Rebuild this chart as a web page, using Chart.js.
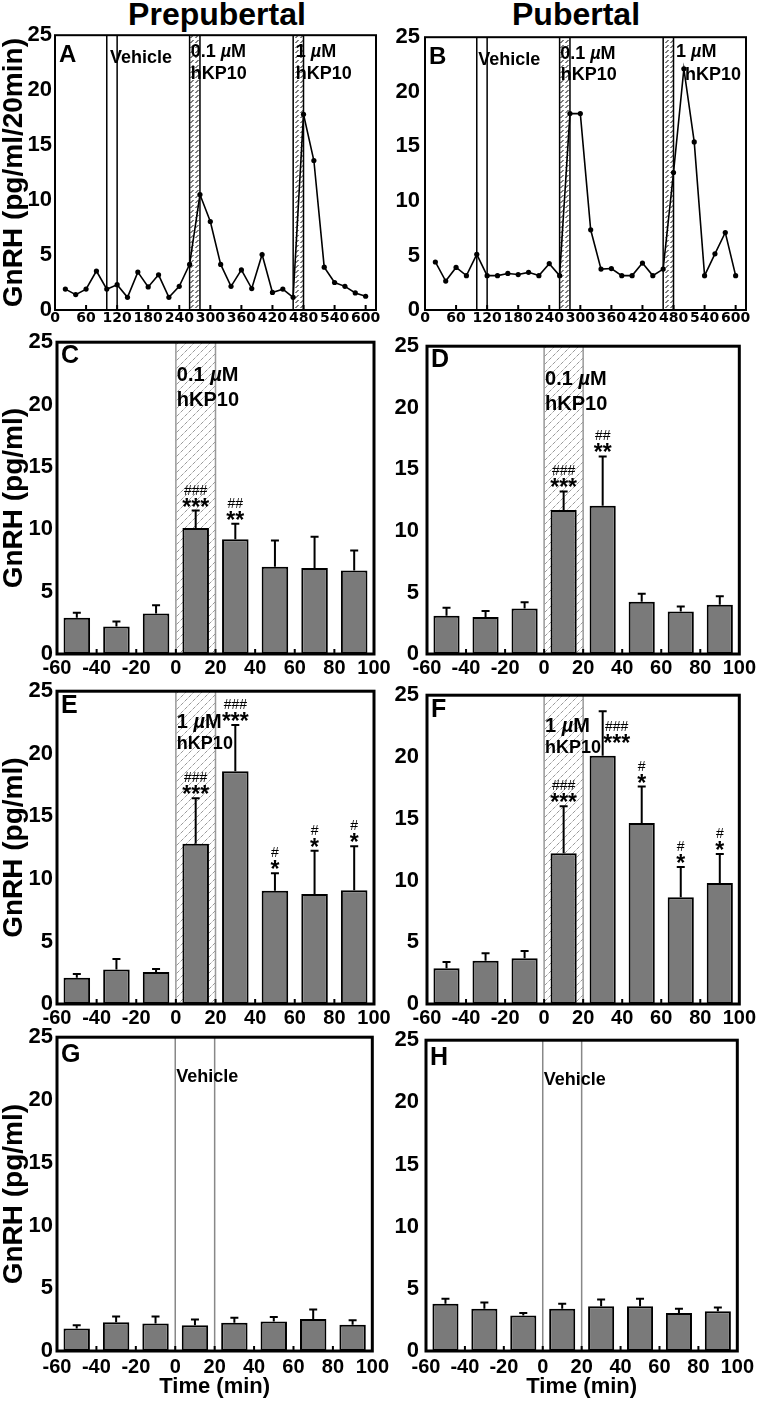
<!DOCTYPE html>
<html>
<head>
<meta charset="utf-8">
<script src="https://cdn.jsdelivr.net/npm/chart.js@4/dist/chart.umd.min.js"></script>
<style>
  body { margin: 0; background: #fff; }
  #wrap { position: relative; width: 760px; height: 1403px; overflow: hidden; background: #fff; }
  #wrap canvas { position: absolute; }
  .ttl { position: absolute; top: -2px; width: 300px; text-align: center;
         font: bold 32px "Liberation Sans", Arial, sans-serif; line-height: 32px; }
</style>
</head>
<body>
<div id="wrap">
  <div class="ttl" style="left:67px">Prepubertal</div>
  <div class="ttl" style="left:426px">Pubertal</div>
</div>
<script>
// A, B: perifusion time course, one fraction every 20 min
const sampleTimes = [20, 40, 60, 80, 100, 120, 140, 160, 180, 200, 220, 240, 260, 280, 300,
                     320, 340, 360, 380, 400, 420, 440, 460, 480, 500, 520, 540, 560, 580, 600]
const prepubertalPulse = [1.9, 1.4, 1.9, 3.55, 1.9, 2.3, 1.15, 3.45, 2.1, 3.2, 1.15, 2.15, 4.15, 10.5, 8.05,
                          4.15, 2.15, 3.65, 1.95, 5.05, 1.6, 1.9, 1.15, 17.8, 13.6, 3.9, 2.5, 2.15, 1.55, 1.25]
const pubertalPulse = [4.4, 2.65, 3.9, 3.15, 5.1, 3.15, 3.15, 3.35, 3.25, 3.45, 3.15, 4.25, 3.15, 18.0, 18.0,
                       7.35, 3.75, 3.8, 3.15, 3.15, 4.3, 3.15, 3.75, 12.6, 22.1, 15.4, 3.15, 5.15, 7.1, 3.15]
const courseTicks = [0, 60, 120, 180, 240, 300, 360, 420, 480, 540, 600]

// C-H: mean +/- SEM per 20-min fraction around the stimulus (0-20 min)
const fractionTimes = [-50, -30, -10, 10, 30, 50, 70, 90]
const timeTicks = [-60, -40, -20, 0, 20, 40, 60, 80, 100]
const gnrhTicks = [0, 5, 10, 15, 20, 25]

const prepub01Mean = [2.9, 2.2, 3.25, 10.1, 9.2, 7.0, 6.9, 6.7]
const prepub01Sem  = [0.4, 0.4, 0.65, 1.4, 1.25, 2.1, 2.5, 1.6]
const pub01Mean    = [3.1, 3.0, 3.7, 11.7, 12.05, 4.25, 3.45, 4.0]
const pub01Sem     = [0.65, 0.5, 0.5, 1.5, 4.0, 0.65, 0.4, 0.7]
const prepub1Mean  = [2.1, 2.75, 2.55, 12.8, 18.6, 9.05, 8.8, 9.1]
const prepub1Sem   = [0.3, 0.85, 0.25, 3.65, 3.7, 1.4, 3.45, 3.5]
const pub1Mean     = [2.9, 3.5, 3.7, 12.2, 20.1, 14.65, 8.65, 9.8]
const pub1Sem      = [0.5, 0.6, 0.6, 3.8, 3.6, 2.95, 2.45, 2.35]
const prepubVehMean = [1.8, 2.3, 2.2, 2.05, 2.25, 2.35, 2.55, 2.1]
const prepubVehSem  = [0.25, 0.45, 0.55, 0.45, 0.4, 0.35, 0.75, 0.35]
const pubVehMean    = [3.8, 3.4, 2.85, 3.4, 3.6, 3.6, 3.05, 3.2]
const pubVehSem     = [0.4, 0.5, 0.2, 0.4, 0.55, 0.6, 0.35, 0.3]

// *** vs. baseline, ### vs. vehicle
const stars01  = ['', '', '', '***', '**', '', '', '']
const hashes01 = ['', '', '', '###', '##', '', '', '']
const stars1   = ['', '', '', '***', '***', '*', '*', '*']
const hashes1  = ['', '', '', '###', '###', '#', '#', '#']

const FAM = '"Liberation Sans", Arial, Helvetica, sans-serif'
Chart.defaults.font.family = FAM
Chart.defaults.color = '#000'

// small tiles for the hatched stimulus bands
function tile(size, color, bg, segs) {
  const t = document.createElement('canvas')
  t.width = t.height = size
  const c = t.getContext('2d')
  if (bg) {
    c.fillStyle = bg
    c.fillRect(0, 0, size, size)
  }
  c.strokeStyle = color
  c.lineWidth = 1
  c.beginPath()
  segs.forEach(s => { c.moveTo(s[0], s[1]); c.lineTo(s[2], s[3]) })
  c.stroke()
  return t
}
const darkHatch = tile(5, '#000', null, [[0.5, 4, 3.5, 1]])
const lightHatch = tile(8, '#9a9a9a', '#fff', [[0.5, 3.5, 3.5, 0.5], [4.5, 7.5, 7.5, 4.5]])

function richText(ctx, str, x, y, size) {
  // µ is set in italics
  let cx = x
  str.split('µ').forEach((s, i) => {
    if (i > 0) {
      ctx.font = `italic bold ${size}px ${FAM}`
      ctx.fillText('µ', cx, y)
      cx += ctx.measureText('µ').width
    }
    ctx.font = `bold ${size}px ${FAM}`
    ctx.fillText(s, cx, y)
    cx += ctx.measureText(s).width
  })
}

function drawLabels(chart, o) {
  const { ctx, scales: { x, y } } = chart
  ctx.fillStyle = '#000'
  ctx.textAlign = 'left'
  ctx.textBaseline = 'middle'
  ;(o.labels || []).forEach(l => richText(ctx, l.text, x.getPixelForValue(l.x), y.getPixelForValue(l.y), l.size))
}

const decor = {
  id: 'decor',
  beforeDatasetsDraw(chart, args, o) {
    const { ctx, chartArea: a, scales: { x } } = chart
    ctx.save()
    if (o.textUnder) drawLabels(chart, o)
    ;(o.bands || []).forEach(b => {
      const x0 = x.getPixelForValue(b.from)
      const x1 = x.getPixelForValue(b.to)
      if (b.hatch) {
        ctx.fillStyle = ctx.createPattern(b.hatch, 'repeat')
        ctx.fillRect(x0, a.top, x1 - x0, a.bottom - a.top)
      }
      ctx.strokeStyle = b.color
      ctx.lineWidth = b.width
      ctx.beginPath()
      ;[x0, x1].forEach(px => { ctx.moveTo(px, a.top); ctx.lineTo(px, a.bottom) })
      ctx.stroke()
    })
    ctx.restore()
  },
  afterDatasetsDraw(chart, args, o) {
    const { ctx, scales: { y } } = chart
    ctx.save()
    if (o.sem) {
      const meta = chart.getDatasetMeta(0)
      o.sem.forEach((e, i) => {
        const bar = meta.data[i]
        const top = y.getPixelForValue(o.mean[i] + e)
        ctx.strokeStyle = '#000'
        ctx.lineWidth = 2
        ctx.beginPath()
        ctx.moveTo(bar.x, bar.y)
        ctx.lineTo(bar.x, top)
        ctx.moveTo(bar.x - 4, top)
        ctx.lineTo(bar.x + 4, top)
        ctx.stroke()
        const sh = (o.sigShift || {})[i] || { dx: 0, dy: 0 }
        ctx.fillStyle = '#000'
        ctx.textAlign = 'center'
        ctx.textBaseline = 'alphabetic'
        if (o.stars && o.stars[i]) {
          ctx.font = `bold 23px ${FAM}`
          ctx.fillText(o.stars[i], bar.x + sh.dx, top - 9 + sh.dy + 13)
        }
        if (o.hashes && o.hashes[i]) {
          ctx.font = `14px ${FAM}`
          ctx.fillText(o.hashes[i], bar.x + sh.dx, top - 21 + sh.dy + 5)
        }
      })
    }
    if (!o.textUnder) drawLabels(chart, o)
    ctx.restore()
  },
  afterDraw(chart, args, o) {
    const { ctx, chartArea: a, scales: { x } } = chart
    ctx.save()
    // inner tick marks on the time axis
    ctx.fillStyle = '#000'
    x.ticks.forEach(t => {
      if (t.value <= x.min || t.value >= x.max) return
      const px = x.getPixelForValue(t.value)
      ctx.fillRect(px - 1, a.bottom - 5, 2, 5)
    })
    ctx.strokeStyle = '#000'
    ctx.lineWidth = o.frame
    ctx.strokeRect(a.left, a.top, a.right - a.left, a.bottom - a.top)
    ctx.font = `bold ${o.letterSize}px ${FAM}`
    ctx.textAlign = 'left'
    ctx.textBaseline = 'middle'
    ctx.fillText(o.letter, a.left + 4, a.top + o.letterDy)
    ctx.restore()
  }
}

function build(p) {
  const x0 = p.col ? 380 : 0
  const w = p.col ? 380 : 395
  const y0 = p.t - 14
  const h = p.b + p.xh - y0
  const cv = document.createElement('canvas')
  cv.width = w
  cv.height = h
  cv.style.left = x0 + 'px'
  cv.style.top = y0 + 'px'
  document.getElementById('wrap').appendChild(cv)

  const isBar = p.kind === 'bar'
  const dataset = isBar ? {
    type: 'bar',
    data: fractionTimes.map((t, i) => ({ x: t, y: p.mean[i] })),
    backgroundColor: '#7a7a7a',
    borderColor: '#000',
    borderWidth: 2,
    borderSkipped: false,
    barPercentage: 0.67,
    categoryPercentage: 1
  } : {
    type: 'line',
    data: sampleTimes.map((t, i) => ({ x: t, y: p.vals[i] })),
    borderColor: '#000',
    borderWidth: 1.6,
    pointRadius: 2.6,
    pointBackgroundColor: '#000',
    pointBorderWidth: 0,
    tension: 0
  }
  const xTickVals = isBar ? timeTicks : courseTicks

  new Chart(cv, {
    type: isBar ? 'bar' : 'line',
    data: { datasets: [dataset] },
    options: {
      responsive: false,
      devicePixelRatio: 1,
      animation: false,
      layout: { padding: { top: 14, left: 0, right: x0 + w - p.r, bottom: 0 } },
      plugins: {
        legend: { display: false },
        tooltip: { enabled: false },
        decor: p.decor
      },
      scales: {
        x: {
          type: 'linear',
          min: isBar ? -60 : 0,
          max: isBar ? 100 : 620,
          offset: false,
          afterBuildTicks: s => { s.ticks = xTickVals.map(v => ({ value: v })) },
          ticks: {
            autoSkip: false,
            maxRotation: 0,
            padding: p.xPad,
            font: isBar ? { size: 20, weight: 'bold', lineHeight: 1 }
                        : { family: '"DejaVu Sans", sans-serif', size: 14, weight: 'bold', lineHeight: 1 }
          },
          grid: { display: false, drawTicks: false, offset: false },
          border: { display: false },
          title: {
            display: !!p.xtitle,
            text: p.xtitle,
            font: { size: 22, weight: 'bold', lineHeight: 1 },
            padding: 0
          },
          afterFit: s => { s.height = p.xh }
        },
        y: {
          min: 0,
          max: 25,
          afterBuildTicks: s => { s.ticks = gnrhTicks.map(v => ({ value: v })) },
          ticks: { padding: p.yPad, font: { size: 22, weight: 'bold' } },
          grid: { display: false, drawTicks: false },
          border: { display: false },
          title: {
            display: !!p.ytitle,
            text: p.ytitle,
            font: { size: 28, weight: 'bold', lineHeight: 1 },
            padding: 0
          },
          afterFit: s => { s.width = p.l - x0 }
        }
      }
    },
    plugins: [decor]
  })
}

const courseBands = [
  { from: 100, to: 120, color: '#000', width: 1.5 },
  { from: 260, to: 280, color: '#000', width: 1.5, hatch: darkHatch },
  { from: 460, to: 480, color: '#000', width: 1.5, hatch: darkHatch }
]
const kpBand = [{ from: 0, to: 20, color: '#999', width: 1.5, hatch: lightHatch }]
const vehBand = [{ from: 0, to: 20, color: '#888', width: 1.5 }]
const label01 = [{ text: '0.1 µM', x: 0.5, y: 22.3, size: 20 }, { text: 'hKP10', x: 0.5, y: 20.3, size: 20 }]
const label1 = [{ text: '1 µM', x: 0.5, y: 22.5, size: 20 }, { text: 'hKP10', x: 0.5, y: 20.75, size: 18 }]
const labelVeh = [{ text: 'Vehicle', x: 0.5, y: 21.8, size: 18 }]

const panels = [
  { col: 0, l: 55, t: 33, r: 376, b: 310, xh: 20, xPad: 1, yPad: 3, kind: 'line', vals: prepubertalPulse,
    ytitle: 'GnRH (pg/ml/20min)',
    decor: { letter: 'A', letterSize: 24, letterDy: 20, frame: 2, textUnder: true, bands: courseBands,
      labels: [{ text: 'Vehicle', x: 106, y: 22.9, size: 18 },
               { text: '0.1 µM', x: 262, y: 23.5, size: 18 }, { text: 'hKP10', x: 262, y: 21.5, size: 18 },
               { text: '1 µM', x: 465, y: 23.5, size: 18 }, { text: 'hKP10', x: 465, y: 21.5, size: 18 }] } },
  { col: 1, l: 425, t: 33, r: 746, b: 310, xh: 20, xPad: 1, yPad: 5, kind: 'line', vals: pubertalPulse,
    decor: { letter: 'B', letterSize: 24, letterDy: 20, frame: 2, textUnder: true, bands: courseBands,
      labels: [{ text: 'Vehicle', x: 103, y: 22.9, size: 18 },
               { text: '0.1 µM', x: 261, y: 23.5, size: 18 }, { text: 'hKP10', x: 262, y: 21.5, size: 18 },
               { text: '1 µM', x: 485, y: 23.6, size: 18 }, { text: 'hKP10', x: 502, y: 21.5, size: 18 }] } },
  { col: 0, l: 57, t: 339, r: 374, b: 654, xh: 26, xPad: 4, yPad: 4, kind: 'bar', mean: prepub01Mean,
    ytitle: 'GnRH (pg/ml)',
    decor: { letter: 'C', letterSize: 25, letterDy: 14, frame: 3, bands: kpBand, labels: label01,
      mean: prepub01Mean, sem: prepub01Sem, stars: stars01, hashes: hashes01 } },
  { col: 1, l: 427, t: 339, r: 743, b: 654, xh: 26, xPad: 4, yPad: 8, kind: 'bar', mean: pub01Mean,
    decor: { letter: 'D', letterSize: 25, letterDy: 14, frame: 3, bands: kpBand, labels: label01,
      mean: pub01Mean, sem: pub01Sem, stars: stars01, hashes: hashes01 } },
  { col: 0, l: 57, t: 688, r: 374, b: 1004, xh: 26, xPad: 4, yPad: 4, kind: 'bar', mean: prepub1Mean,
    ytitle: 'GnRH (pg/ml)',
    decor: { letter: 'E', letterSize: 25, letterDy: 15, frame: 3, bands: kpBand, labels: label1,
      mean: prepub1Mean, sem: prepub1Sem, stars: stars1, hashes: hashes1 } },
  { col: 1, l: 427, t: 688, r: 743, b: 1004, xh: 26, xPad: 4, yPad: 8, kind: 'bar', mean: pub1Mean,
    decor: { letter: 'F', letterSize: 25, letterDy: 15, frame: 3, bands: kpBand, labels: label1,
      mean: pub1Mean, sem: pub1Sem, stars: stars1, hashes: hashes1, sigShift: { 4: { dx: 14, dy: 36 } } } },
  { col: 0, l: 57, t: 1034, r: 373, b: 1351, xh: 47, xPad: 6, yPad: 4, kind: 'bar', mean: prepubVehMean,
    ytitle: 'GnRH (pg/ml)', xtitle: 'Time (min)',
    decor: { letter: 'G', letterSize: 25, letterDy: 18, frame: 3, bands: vehBand, labels: labelVeh,
      mean: prepubVehMean, sem: prepubVehSem } },
  { col: 1, l: 426, t: 1034, r: 743, b: 1351, xh: 47, xPad: 6, yPad: 7, kind: 'bar', mean: pubVehMean,
    xtitle: 'Time (min)',
    decor: { letter: 'H', letterSize: 25, letterDy: 18, frame: 3, bands: vehBand, labels: labelVeh,
      mean: pubVehMean, sem: pubVehSem } }
]

panels.forEach(build)
</script>
</body>
</html>
